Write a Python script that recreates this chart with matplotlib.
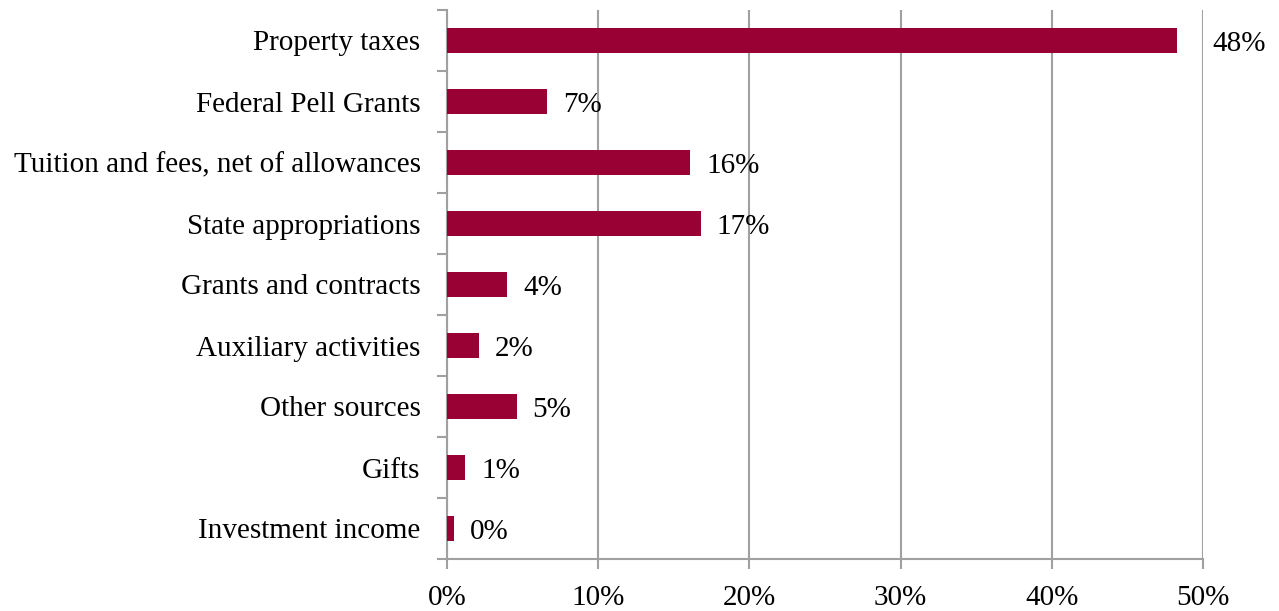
import matplotlib
matplotlib.use("Agg")
import matplotlib.pyplot as plt
from matplotlib.ticker import FixedLocator, PercentFormatter

categories = ["Property taxes", "Federal Pell Grants", "Tuition and fees, net of allowances",
              "State appropriations", "Grants and contracts", "Auxiliary activities",
              "Other sources", "Gifts", "Investment income"]
values = [48.3, 6.6, 16.1, 16.8, 4.0, 2.1, 4.6, 1.2, 0.45]
labels = ["48%", "7%", "16%", "17%", "4%", "2%", "5%", "1%", "0%"]

plt.rcParams['font.family'] = ['Liberation Serif', 'DejaVu Serif']
fig = plt.figure(figsize=(12.79, 6.11), dpi=100)
ax = fig.add_axes([447/1279, 52/611, (1203-447)/1279, (559-10)/611])

n = len(categories)
ypos = list(range(n))[::-1]
ax.barh(ypos, values, height=0.4, color="#990033", zorder=3)
xmax = 50
for y, v, t in zip(ypos, values, labels):
    lx = v + 1.05
    if lx > xmax - 1.5:
        lx = xmax + 0.6
    ax.text(lx, y - 0.06, t, va="center", ha="left", fontsize=21, color="black")

ax.set_xlim(0, xmax)
ax.set_ylim(-0.5, n - 0.5)
ax.set_xticks([0, 10, 20, 30, 40, 50])
ax.xaxis.set_major_formatter(PercentFormatter(decimals=0))
ax.set_yticks(ypos)
ax.set_yticklabels(categories)
ax.yaxis.set_minor_locator(FixedLocator([i - 0.5 for i in range(n + 1)]))
ax.tick_params(axis='y', which='major', length=0, pad=19, labelsize=21)
ax.tick_params(axis='y', which='minor', length=7, width=1.5, color="#a0a0a0", direction='out')
ax.tick_params(axis='x', which='major', length=7, width=1.5, color="#a0a0a0", pad=12, labelsize=21)
ax.grid(axis='x', color="#a0a0a0", linewidth=1.5, zorder=0)
for s in ["top", "right"]:
    ax.spines[s].set_visible(False)
for s in ["left", "bottom"]:
    ax.spines[s].set_color("#a0a0a0")
    ax.spines[s].set_linewidth(1.5)

fig.savefig("out.png", dpi=100)
